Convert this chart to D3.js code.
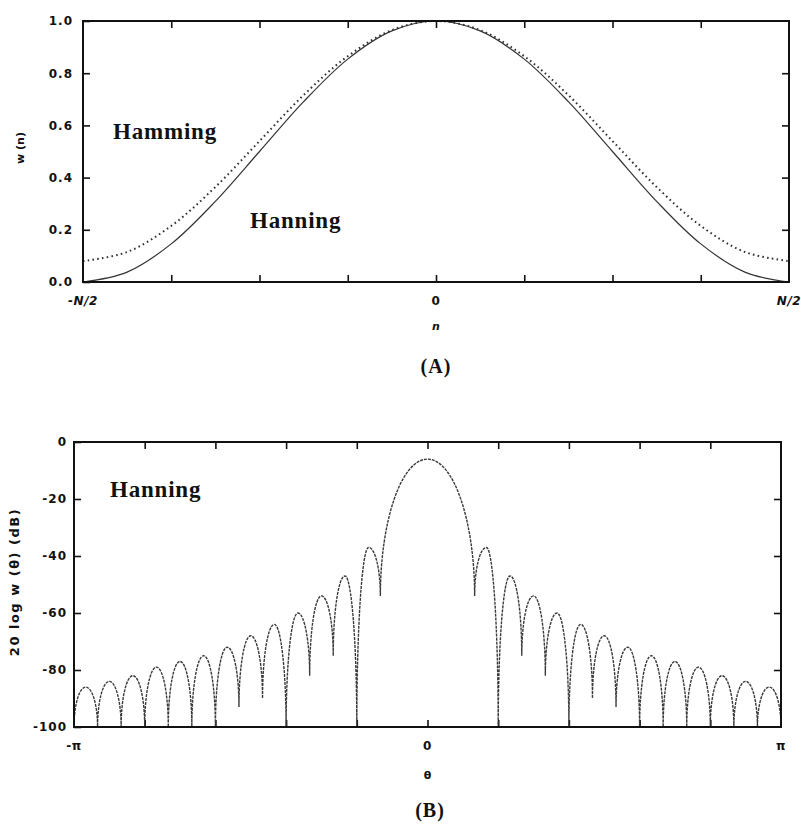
<!DOCTYPE html>
<html>
<head>
<meta charset="utf-8">
<script src="https://cdn.jsdelivr.net/npm/d3@7"></script>
<style>
  html, body { margin: 0; padding: 0; background: #fff; }
  svg { display: block; }
  .tick text { font-family: "DejaVu Sans", sans-serif; font-weight: bold; font-size: 12px; letter-spacing: 1px; fill: #111; }
  .tick line { stroke: #111; stroke-width: 1.6; }
</style>
</head>
<body>
<svg id="chart" width="801" height="830"></svg>
<script>
// ---------- Panel A data: window w(n), sampled every N/16 ----------
const nPos = [-8, -7, -6, -5, -4, -3, -2, -1, 0, 1, 2, 3, 4, 5, 6, 7, 8];
const hanningW = [0.0, 0.038, 0.146, 0.309, 0.5, 0.691, 0.854, 0.962, 1.0, 0.962, 0.854, 0.691, 0.5, 0.309, 0.146, 0.038, 0.0];
const hammingW = [0.08, 0.115, 0.215, 0.364, 0.54, 0.716, 0.865, 0.965, 1.0, 0.965, 0.865, 0.716, 0.54, 0.364, 0.215, 0.115, 0.08];
const topYTicks = [0, 0.2, 0.4, 0.6, 0.8, 1.0];
const topYLabels = ["0.0", "0.2", "0.4", "0.6", "0.8", "1.0"];
const topXTicks = [-8, -6, -4, -2, 0, 2, 4, 6, 8];
const topXLabeled = [-8, 0, 8];
const topXLabels = ["-N/2", "0", "N/2"];

// ---------- Panel B data: Hanning spectrum (dB), theta in units of pi/15 ----------
const mainLobePeakDb = -6;
const nullK = [2, 3, 4, 5, 6, 7, 8, 9, 10, 11, 12, 13, 14, 15];
const nullDb = [-54, -100, -75, -82, -100, -90, -93, -100, -100, -100, -100, -100, -100, -100];
const sideLobePeakDb = [-37, -47, -54, -60, -64, -68, -72, -75, -77, -79, -82, -84, -86];
const botYTicks = [-100, -80, -60, -40, -20, 0];
const botYLabels = ["-100", "-80", "-60", "-40", "-20", "0"];
const botXTicks = [-15, -12, -9, -6, -3, 0, 3, 6, 9, 12, 15];
const botXLabeled = [-15, 0, 15];
const botXLabels = ["-\u03c0", "0", "\u03c0"];

const svg = d3.select("#chart");

// ================= Panel A =================
const xA = d3.scaleLinear().domain([-8, 8]).range([83, 789]);
const yA = d3.scaleLinear().domain([0, 1]).range([282, 21]);

const gA = svg.append("g");
gA.append("g").attr("transform", `translate(${xA.range()[0]},0)`)
  .call(d3.axisLeft(yA).tickValues(topYTicks).tickSizeInner(-7).tickSizeOuter(0).tickPadding(10)
    .tickFormat((d, i) => topYLabels[i]))
  .call(g => g.select(".domain").remove());
gA.append("g").attr("transform", `translate(${xA.range()[1]},0)`)
  .call(d3.axisRight(yA).tickValues(topYTicks.slice(1, -1)).tickSizeInner(-7).tickSizeOuter(0).tickFormat(""))
  .call(g => g.select(".domain").remove());
gA.append("g").attr("transform", `translate(0,${yA.range()[0]})`)
  .call(d3.axisBottom(xA).tickValues(topXTicks.slice(1, -1)).tickSizeInner(-7).tickSizeOuter(0).tickFormat(""))
  .call(g => g.select(".domain").remove());
gA.append("g").attr("transform", `translate(0,${yA.range()[1]})`)
  .call(d3.axisTop(xA).tickValues(topXTicks.slice(1, -1)).tickSizeInner(-7).tickSizeOuter(0).tickFormat(""))
  .call(g => g.select(".domain").remove());
topXLabeled.forEach((v, i) => {
  gA.append("text").attr("x", xA(v)).attr("y", 305)
    .attr("text-anchor", "middle")
    .style("font-family", "DejaVu Sans, sans-serif").style("font-weight", "bold")
    .style("font-style", v === 0 ? "normal" : "italic")
    .style("font-size", "12px").style("letter-spacing", "0.5px").style("fill", "#111")
    .text(topXLabels[i]);
});

const lineA = d3.line().x((d, i) => xA(nPos[i])).y(d => yA(d)).curve(d3.curveCatmullRom.alpha(0.5));
gA.append("path").datum(hanningW).attr("d", lineA)
  .attr("fill", "none").attr("stroke", "#333").attr("stroke-width", 1.2);
gA.append("path").datum(hammingW).attr("d", lineA)
  .attr("fill", "none").attr("stroke", "#333").attr("stroke-width", 2)
  .attr("stroke-dasharray", "1.6,3.2");

gA.append("rect").attr("x", xA.range()[0]).attr("y", yA.range()[1])
  .attr("width", xA.range()[1] - xA.range()[0]).attr("height", yA.range()[0] - yA.range()[1])
  .attr("fill", "none").attr("stroke", "#111").attr("stroke-width", 2);

gA.append("text").attr("transform", "translate(24,148) rotate(-90)")
  .attr("text-anchor", "middle")
  .style("font-family", "DejaVu Sans, sans-serif").style("font-weight", "bold").style("font-size", "11px")
  .style("fill", "#111").text("w (n)");
gA.append("text").attr("x", xA(0)).attr("y", 330).attr("text-anchor", "middle")
  .style("font-family", "DejaVu Sans, sans-serif").style("font-weight", "bold").style("font-style", "italic")
  .style("font-size", "11px").style("fill", "#111").text("n");
gA.append("text").attr("x", xA(0)).attr("y", 373).attr("text-anchor", "middle")
  .style("font-family", "Liberation Serif, serif").style("font-weight", "bold").style("font-size", "20px")
  .style("letter-spacing", "1px").style("fill", "#111").text("(A)");
gA.append("text").attr("x", 113).attr("y", 139)
  .style("font-family", "Liberation Serif, serif").style("font-weight", "bold").style("font-size", "23px")
  .style("letter-spacing", "0.8px").style("fill", "#111").text("Hamming");
gA.append("text").attr("x", 250).attr("y", 228)
  .style("font-family", "Liberation Serif, serif").style("font-weight", "bold").style("font-size", "23px")
  .style("letter-spacing", "0.8px").style("fill", "#111").text("Hanning");

// ================= Panel B =================
const xB = d3.scaleLinear().domain([-15, 15]).range([74, 781]);
const yB = d3.scaleLinear().domain([-100, 0]).range([727, 442]);
const gB = svg.append("g");

gB.append("g").attr("transform", `translate(${xB.range()[0]},0)`)
  .call(d3.axisLeft(yB).tickValues(botYTicks).tickSizeInner(-7).tickSizeOuter(0).tickPadding(7)
    .tickFormat((d, i) => botYLabels[i]))
  .call(g => g.select(".domain").remove());
gB.append("g").attr("transform", `translate(${xB.range()[1]},0)`)
  .call(d3.axisRight(yB).tickValues(botYTicks.slice(1, -1)).tickSizeInner(-7).tickSizeOuter(0).tickFormat(""))
  .call(g => g.select(".domain").remove());
gB.append("g").attr("transform", `translate(0,${yB.range()[0]})`)
  .call(d3.axisBottom(xB).tickValues(botXTicks.slice(1, -1)).tickSizeInner(-7).tickSizeOuter(0).tickFormat(""))
  .call(g => g.select(".domain").remove());
gB.append("g").attr("transform", `translate(0,${yB.range()[1]})`)
  .call(d3.axisTop(xB).tickValues(botXTicks.slice(1, -1)).tickSizeInner(-7).tickSizeOuter(0).tickFormat(""))
  .call(g => g.select(".domain").remove());
botXLabeled.forEach((v, i) => {
  gB.append("text").attr("x", xB(v)).attr("y", 750).attr("text-anchor", "middle")
    .style("font-family", "DejaVu Sans, sans-serif").style("font-weight", "bold")
    .style("font-size", "12px").style("letter-spacing", "0.5px").style("fill", "#111")
    .text(botXLabels[i]);
});

// spectrum path: quarter-ellipse arches between nulls and lobe peaks
const K = 0.5523;
function upTo(p, x0, y0, x1, y1) {
  p.bezierCurveTo(x0, y0 - K * (y0 - y1), x1 - K * (x1 - x0), y1, x1, y1);
}
function downTo(p, x0, y0, x1, y1) {
  p.bezierCurveTo(x0 + K * (x1 - x0), y0, x1, y1 - K * (y1 - y0), x1, y1);
}
function spectrumPath() {
  const p = d3.path();
  const n = nullK.length;
  p.moveTo(xB(-nullK[n - 1]), yB(nullDb[n - 1]));
  for (let j = n - 2; j >= 0; j--) {
    const peakX = xB(-(nullK[j] + nullK[j + 1]) / 2), peakY = yB(sideLobePeakDb[j]);
    upTo(p, xB(-nullK[j + 1]), yB(nullDb[j + 1]), peakX, peakY);
    downTo(p, peakX, peakY, xB(-nullK[j]), yB(nullDb[j]));
  }
  upTo(p, xB(-nullK[0]), yB(nullDb[0]), xB(0), yB(mainLobePeakDb));
  downTo(p, xB(0), yB(mainLobePeakDb), xB(nullK[0]), yB(nullDb[0]));
  for (let j = 0; j < n - 1; j++) {
    const peakX = xB((nullK[j] + nullK[j + 1]) / 2), peakY = yB(sideLobePeakDb[j]);
    upTo(p, xB(nullK[j]), yB(nullDb[j]), peakX, peakY);
    downTo(p, peakX, peakY, xB(nullK[j + 1]), yB(nullDb[j + 1]));
  }
  return p.toString();
}
gB.append("path").attr("d", spectrumPath())
  .attr("fill", "none").attr("stroke", "#3a3a3a").attr("stroke-width", 1.4)
  .attr("stroke-dasharray", "3,1");

gB.append("rect").attr("x", xB.range()[0]).attr("y", yB.range()[1])
  .attr("width", xB.range()[1] - xB.range()[0]).attr("height", yB.range()[0] - yB.range()[1])
  .attr("fill", "none").attr("stroke", "#111").attr("stroke-width", 2);

gB.append("text").attr("transform", "translate(19,582) rotate(-90)").attr("text-anchor", "middle")
  .style("font-family", "DejaVu Sans, sans-serif").style("font-weight", "bold").style("font-size", "13px")
  .style("letter-spacing", "1.5px").style("fill", "#111").text("20 log w (\u03b8) (dB)");
gB.append("text").attr("x", xB(0)).attr("y", 779).attr("text-anchor", "middle")
  .style("font-family", "DejaVu Sans, sans-serif").style("font-weight", "bold")
  .style("font-size", "11px").style("fill", "#111").text("\u03b8");
gB.append("text").attr("x", 430).attr("y", 817).attr("text-anchor", "middle")
  .style("font-family", "Liberation Serif, serif").style("font-weight", "bold").style("font-size", "20px")
  .style("letter-spacing", "1px").style("fill", "#111").text("(B)");
gB.append("text").attr("x", 110).attr("y", 497)
  .style("font-family", "Liberation Serif, serif").style("font-weight", "bold").style("font-size", "23px")
  .style("letter-spacing", "0.8px").style("fill", "#111").text("Hanning");
</script>
</body>
</html>
